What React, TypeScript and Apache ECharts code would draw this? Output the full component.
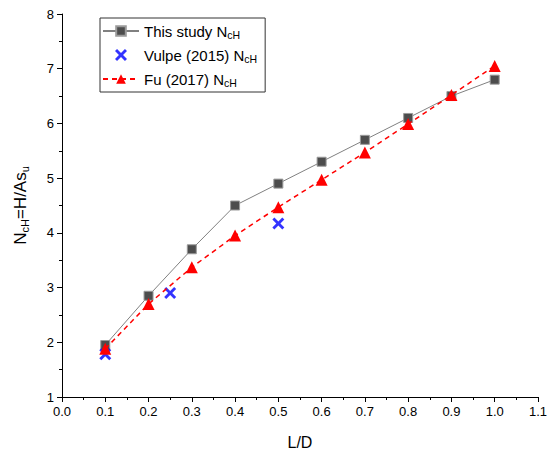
import React, { useEffect, useRef } from "react";
import * as echarts from "echarts";

const ldStudy = [0.1, 0.2, 0.3, 0.4, 0.5, 0.6, 0.7, 0.8, 0.9, 1.0];
const ncStudy = [1.95, 2.85, 3.7, 4.5, 4.9, 5.3, 5.7, 6.1, 6.5, 6.8];
const ldVulpe = [0.1, 0.25, 0.5];
const ncVulpe = [1.78, 2.9, 4.17];
const ldFu = [0.1, 0.2, 0.3, 0.4, 0.5, 0.6, 0.7, 0.8, 0.9, 1.0];
const ncFu = [1.88, 2.7, 3.37, 3.95, 4.47, 4.97, 5.47, 5.99, 6.52, 7.05];
const seriesNames = ["This study", "Vulpe (2015)", "Fu (2017)"];

const crossPath =
  "path://M0,1.7 L1.7,0 L5,3.3 L8.3,0 L10,1.7 L6.7,5 L10,8.3 L8.3,10 L5,6.7 L1.7,10 L0,8.3 L3.3,5 Z";

const font = "Arial, 'Liberation Sans', sans-serif";

export default function App() {
  const ref = useRef<HTMLDivElement>(null);
  useEffect(() => {
    if (!ref.current) return;
    const chart = echarts.init(ref.current, undefined, { renderer: "svg" });
    const zip = (xs: number[], ys: number[]) => xs.map((x, i) => [x, ys[i]]);
    chart.setOption({
      animation: false,
      backgroundColor: "#fff",
      textStyle: { fontFamily: font },
      grid: { left: 62, right: 12, top: 14, bottom: 66, containLabel: false },
      legend: {
        orient: "vertical",
        left: 100,
        top: 18,
        padding: [4, 8, 4, 2],
        itemGap: 6,
        itemWidth: 36,
        itemHeight: 12,
        borderColor: "#333",
        borderWidth: 1,
        backgroundColor: "#fff",
        borderRadius: 0,
        formatter: (name: string) => `{t|${name} N}{s|cH}`,
        textStyle: {
          rich: {
            t: { fontSize: 15, lineHeight: 18, color: "#000", fontFamily: font },
            s: { fontSize: 10.5, lineHeight: 18, color: "#000", fontFamily: font, verticalAlign: "bottom", padding: [7, 0, 0, 0] },
          },
        },
      },
      xAxis: {
        type: "value",
        min: 0,
        max: 1.1,
        interval: 0.1,
        name: "L/D",
        nameLocation: "middle",
        nameGap: 37,
        nameTextStyle: { fontSize: 16, color: "#000", fontFamily: font },
        axisLine: { show: true, lineStyle: { color: "#000", width: 1 } },
        axisTick: { show: true, length: 5, lineStyle: { color: "#000" } },
        minorTick: { show: true, splitNumber: 2, length: 3, lineStyle: { color: "#000" } },
        splitLine: { show: false },
        axisLabel: {
          fontSize: 13,
          color: "#000",
          margin: 8,
          formatter: (v: number) => v.toFixed(1),
        },
      },
      yAxis: {
        type: "value",
        min: 1,
        max: 8,
        interval: 1,
        name: "{t|N}{s|cH}{t|=H/As}{s|u}",
        nameLocation: "middle",
        nameGap: 32,
        nameRotate: 90,
        nameTextStyle: {
          rich: {
            t: { fontSize: 17, color: "#000", fontFamily: font },
            s: { fontSize: 11, color: "#000", fontFamily: font, padding: [8, 0, 0, 0] },
          },
        },
        axisLine: { show: true, lineStyle: { color: "#000", width: 1 } },
        axisTick: { show: true, length: 5, lineStyle: { color: "#000" } },
        minorTick: { show: true, splitNumber: 2, length: 3, lineStyle: { color: "#000" } },
        splitLine: { show: false },
        axisLabel: { fontSize: 13, color: "#000", margin: 8 },
      },
      series: [
        {
          name: seriesNames[0],
          type: "line",
          data: zip(ldStudy, ncStudy),
          symbol: "rect",
          symbolSize: 9,
          lineStyle: { color: "#808080", width: 1 },
          itemStyle: { color: "#4d4d4d", borderColor: "#9a9a9a", borderWidth: 1 },
          z: 2,
        },
        {
          name: seriesNames[1],
          type: "scatter",
          data: zip(ldVulpe, ncVulpe),
          symbol: crossPath,
          symbolSize: 12,
          itemStyle: { color: "#0000ff" },
          z: 3,
        },
        {
          name: seriesNames[2],
          type: "line",
          data: zip(ldFu, ncFu),
          symbol: "triangle",
          symbolSize: 12,
          lineStyle: { color: "#ff0000", width: 1.5, type: [5, 4] },
          itemStyle: { color: "#ff0000" },
          z: 4,
        },
      ],
    });
    return () => chart.dispose();
  }, []);
  return <div ref={ref} style={{ width: 550, height: 463, position: "absolute", left: 0, top: 0 }} />;
}
